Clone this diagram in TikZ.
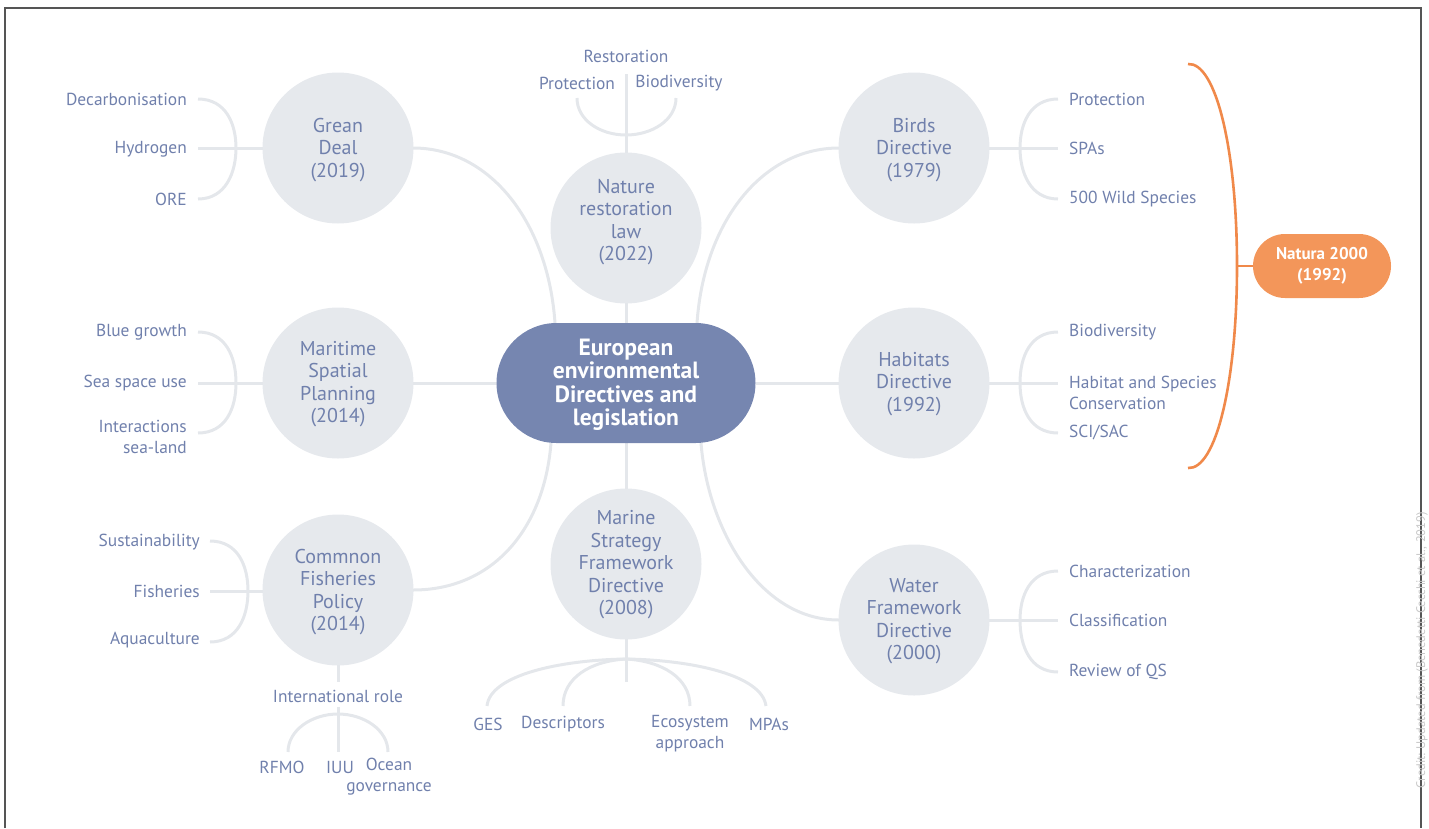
\documentclass[tikz,border=0pt]{standalone}
\usepackage{fontspec}
\setmainfont{PT Sans}
\usetikzlibrary{calc}
\definecolor{txt}{HTML}{7080AC}
\definecolor{cfill}{HTML}{E6E9ED}
\definecolor{lnc}{HTML}{E4E7EB}
\definecolor{ctrfill}{HTML}{7686B0}
\definecolor{orl}{HTML}{F0894A}
\definecolor{orf}{HTML}{F3965A}
\definecolor{frame}{HTML}{555555}
\tikzset{
  x=1pt, y=-1pt,
  topic/.style={circle, fill=cfill, minimum size=151pt, inner sep=0pt, align=center,
    text=txt, font=\fontsize{20}{22.5}\selectfont},
  topictext/.style={inner sep=0pt, align=center, text=txt, font=\fontsize{20}{22.5}\selectfont},
  hub/.style={rectangle, rounded corners=60pt, fill=ctrfill, minimum width=259pt,
    minimum height=120pt, align=center, text=white, font=\fontsize{23.5}{23.5}\selectfont\bfseries},
  natura/.style={rectangle, rounded corners=32pt, fill=orf, minimum width=138pt,
    minimum height=64pt, align=center, text=white, font=\fontsize{17}{21}\selectfont\bfseries},
  lab/.style={text=txt, font=\fontsize{17.4}{21}\selectfont, inner sep=0pt},
  labL/.style={lab, anchor=east, align=right},
  labR/.style={lab, anchor=west, align=left},
  labC/.style={lab, anchor=center, align=center},
  conn/.style={draw=lnc, line width=3pt},
  bracket/.style={draw=orl, line width=2.6pt},
}
\begin{document}
\begin{tikzpicture}
\useasboundingbox (0,0) rectangle (1429,828);
\begin{scope}
\clip (0,0) rectangle (1429,828);
% frame
\draw[frame, line width=1.5pt] (5,828) -- (5,8) -- (1421,8) -- (1421,828);
\node[rotate=90, anchor=south east, text=black!22, font=\fontsize{12.5}{13}\selectfont, inner sep=0pt]
  (credit) at (1428,512) {Credit: Updated from (Benedetti Cecchi et al., 2019)};

% ---- coordinates for free ends
\coordinate (gdA) at (198,99);  \coordinate (gdB) at (198,148); \coordinate (gdC) at (198,199);
\coordinate (msA) at (198,332); \coordinate (msB) at (198,383); \coordinate (msC) at (198,433);
\coordinate (cfA) at (210,541); \coordinate (cfB) at (210,591); \coordinate (cfC) at (210,642);
\coordinate (bdA) at (1058,99);  \coordinate (bdB) at (1058,148); \coordinate (bdC) at (1058,199);
\coordinate (hdA) at (1058,332); \coordinate (hdB) at (1058,383); \coordinate (hdC) at (1058,433);
\coordinate (wfA) at (1058,571); \coordinate (wfB) at (1058,620); \coordinate (wfC) at (1058,672);

% ---- connectors (drawn first)
\draw[conn] (413,148) .. controls (490,148) and (548,222) .. (555,323);
\draw[conn] (839,148) .. controls (762,148) and (704,222) .. (697,323);
\draw[conn] (413,383) -- (497,383);
\draw[conn] (756,383) -- (839,383);
\draw[conn] (626,300) -- (626,323);
\draw[conn] (626,443) -- (626,490);
\draw[conn] (551,443) .. controls (544,530) and (492,590) .. (413,590);
\draw[conn] (701,443) .. controls (708,530) and (760,620) .. (839,620);

% left branches
\draw[conn] (gdA) .. controls (226,99) and (236,124) .. (236,148) .. controls (236,172) and (226,199) .. (gdC);
\draw[conn] (gdB) -- (264,148);
\draw[conn] (msA) .. controls (226,332) and (236,357) .. (236,383) .. controls (236,408) and (226,433) .. (msC);
\draw[conn] (msB) -- (264,383);
\draw[conn] (cfA) .. controls (238,541) and (248,566) .. (248,591) .. controls (248,616) and (238,642) .. (cfC);
\draw[conn] (cfB) -- (264,591);
% right branches
\draw[conn] (bdA) .. controls (1030,99) and (1020,124) .. (1020,148) .. controls (1020,172) and (1030,199) .. (bdC);
\draw[conn] (bdB) -- (988,148);
\draw[conn] (hdA) .. controls (1030,332) and (1020,357) .. (1020,383) .. controls (1020,408) and (1030,433) .. (hdC);
\draw[conn] (hdB) -- (988,383);
\draw[conn] (wfA) .. controls (1030,571) and (1020,596) .. (1020,620) .. controls (1020,646) and (1030,672) .. (wfC);
\draw[conn] (wfB) -- (988,620);

% nature restoration top
\draw[conn] (626,74) -- (626,155);
\draw[conn] (577,98) .. controls (577,120) and (600,135) .. (626,135) .. controls (652,135) and (676,120) .. (676,98);

% CFP bottom
\draw[conn] (338,664) -- (338,682);
\draw[conn] (338,707) -- (338,752);
\draw[conn] (288,752) .. controls (288,730) and (312,714) .. (338,714) .. controls (364,714) and (388,730) .. (388,752);

% MSFD bottom
\draw[conn] (626,638) -- (626,682);
\draw[conn] (487,706) .. controls (490,675) and (560,660) .. (626,659) .. controls (692,660) and (762,675) .. (766,706);
\draw[conn] (563,706) .. controls (563,678) and (590,661) .. (626,659) .. controls (662,661) and (690,678) .. (690,706);

% orange bracket
\draw[bracket] (1188,64) .. controls (1216,62) and (1237,150) .. (1237,266) .. controls (1237,382) and (1216,470) .. (1188,468);
\draw[bracket] (1237,266) -- (1254,266);

% ---- nodes
\node[hub] (hub) at (626,383) {};
\node[inner sep=0pt, align=center, text=white, font=\fontsize{23.5}{23.5}\selectfont\bfseries] (hubt) at (626,385) {European\\environmental\\Directives and\\legislation};
\node[topic] (gd) at (338,148) {};
\node[topictext] (gdt) at (338,150) {Grean\\Deal\\(2019)};
\node[topic] (nrl) at (626,228) {};
\node[topictext] (nrlt) at (626,222) {Nature\\restoration\\law\\(2022)};
\node[topic] (bd) at (914,148) {};
\node[topictext] (bdt) at (914,150) {Birds\\Directive\\(1979)};
\node[topic] (msp) at (338,383) {};
\node[topictext] (mspt) at (338,384) {Maritime\\Spatial\\Planning\\(2014)};
\node[topic] (hd) at (914,383) {};
\node[topictext] (hdt) at (914,384) {Habitats\\Directive\\(1992)};
\node[topic] (cfp) at (338,590) {};
\node[topictext] (cfpt) at (338,592) {Commnon\\Fisheries\\Policy\\(2014)};
\node[topic] (msfd) at (626,564) {};
\node[topictext] (msfdt) at (626,565) {Marine\\Strategy\\Framework\\Directive\\(2008)};
\node[topic] (wfd) at (914,620) {};
\node[topictext] (wfdt) at (914,621) {Water\\Framework\\Directive\\(2000)};
\node[natura] (nat) at (1322,266) {Natura 2000\\(1992)};

% labels
\node[labL] (l1) at (187,99) {Decarbonisation};
\node[labL] (l2) at (187,149) {Hydrogen};
\node[labL] (l3) at (187,199) {ORE};
\node[labL] (l4) at (187,332) {Blue growth};
\node[labL] (l5) at (187,383) {Sea space use};
\node[labL] (l6) at (187,437) {Interactions\\sea-land};
\node[labL] (l7) at (200,542) {Sustainability};
\node[labL] (l8) at (200,591) {Fisheries};
\node[labL] (l9) at (200,640) {Aquaculture};

\node[labC] (n1) at (626,56) {Restoration};
\node[labC] (n2) at (577,83) {Protection};
\node[labC] (n3) at (679,83) {Biodiversity};

\node[labR] (r1) at (1069,99) {Protection};
\node[labR] (r2) at (1069,148) {SPAs};
\node[labR] (r3) at (1069,199) {500 Wild Species};
\node[labR] (r4) at (1069,332) {Biodiversity};
\node[labR] (r5) at (1069,393) {Habitat and Species\\Conservation};
\node[labR] (r6) at (1069,433) {SCI/SAC};
\node[labR] (r7) at (1069,571) {Characterization};
\node[labR] (r8) at (1069,620) {Classification};
\node[labR] (r9) at (1069,672) {Review of QS};

\node[labC] (c1) at (338,696) {International role};
\node[labC] (c2) at (282,767) {RFMO};
\node[labC] (c3) at (340,767) {IUU};
\node[labC] (c4) at (389,777) {Ocean\\governance};

\node[labC] (m1) at (488,724) {GES};
\node[labC] (m2) at (563,724) {Descriptors};
\node[labC] (m3) at (690,734) {Ecosystem\\approach};
\node[labC] (m4) at (769,724) {MPAs};
\end{scope}
\end{tikzpicture}
\end{document}
